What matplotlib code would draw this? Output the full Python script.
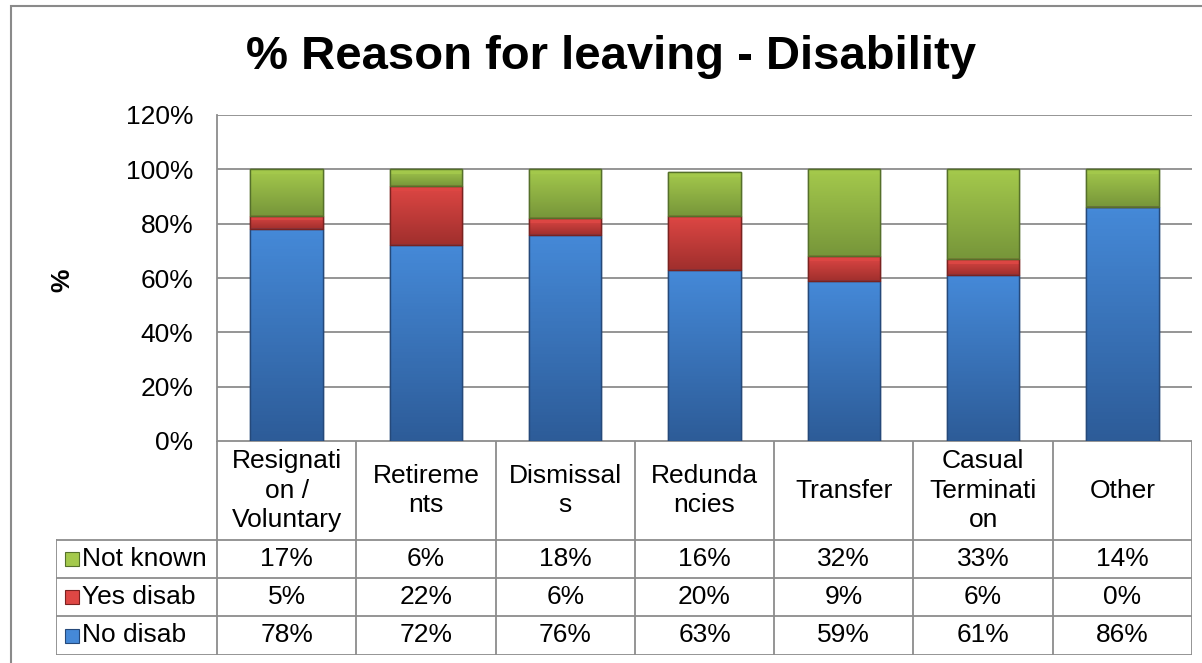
import numpy as np
import matplotlib
matplotlib.use("Agg")
import matplotlib.pyplot as plt
from matplotlib.patches import Rectangle
from matplotlib.colors import LinearSegmentedColormap

plt.rcParams['font.family'] = ['Liberation Sans', 'DejaVu Sans']

# Data
categories = ["Resignati\non /\nVoluntary", "Retireme\nnts", "Dismissal\ns",
              "Redunda\nncies", "Transfer", "Casual\nTerminati\non", "Other"]
no_disab = [78, 72, 76, 63, 59, 61, 86]
yes_disab = [5, 22, 6, 20, 9, 6, 0]
not_known = [17, 6, 18, 16, 32, 33, 14]
yticks = [0, 20, 40, 60, 80, 100, 120]

# top / bottom shades for each series
shades = {
    "No disab": ("#4589d8", "#2d5c98"),
    "Yes disab": ("#de4744", "#a02f2d"),
    "Not known": ("#a4c94c", "#77963a"),
}
edge = {"No disab": "#25497a", "Yes disab": "#7a2220", "Not known": "#55702a"}

FS = 19
W, H = 1202, 663
fig = plt.figure(figsize=(W / 100, H / 100), dpi=100)

# outer chart frame
fig.patches.append(Rectangle((11 / W, -0.05), 1.2, (H - 6) / H + 0.05,
                             transform=fig.transFigure, fill=False,
                             edgecolor="#8a8a8a", lw=1.5))

fig.text(0.508, (H - 57) / H, "% Reason for leaving - Disability",
         ha="center", va="center", fontsize=34, fontweight="bold")
fig.text(62 / W, (H - 280) / H, "%", rotation=90, ha="center", va="center",
         fontsize=FS, fontweight="bold")

# main plot area
ax = fig.add_axes([217 / W, (H - 441) / H, 975 / W, 326 / H])
x = np.arange(len(categories))
ax.set_yticks(yticks)
ax.set_yticklabels([f"{t}%" for t in yticks], fontsize=FS)
ax.tick_params(axis="y", length=0, pad=17)
ax.set_xticks([])
ax.yaxis.grid(True, color="#8c8c8c", lw=1.3)
ax.set_axisbelow(True)
for side in ["top", "right", "bottom"]:
    ax.spines[side].set_visible(False)
ax.spines["left"].set_color("#8c8c8c")
ax.spines["left"].set_linewidth(1.3)


def shaded_bars(ax, xs, heights, bottoms, name):
    top_c, bot_c = shades[name]
    cmap = LinearSegmentedColormap.from_list(name, [bot_c, top_c])
    bars = ax.bar(xs, heights, width=0.52, bottom=bottoms,
                  color=top_c, edgecolor=edge[name], lw=1.0, zorder=3)
    grad = np.linspace(0, 1, 64).reshape(-1, 1)
    for b, h in zip(bars, heights):
        if h <= 0:
            continue
        x0, y0 = b.get_x(), b.get_y()
        im = ax.imshow(grad, cmap=cmap, origin="lower", aspect="auto",
                       extent=[x0, x0 + b.get_width(), y0, y0 + h],
                       zorder=3.5)
        im.set_clip_path(b)
        # bevel highlight along the top of each segment
        bev = min(1.8, h * 0.3)
        ax.bar(x0 + b.get_width() / 2, bev, width=b.get_width(),
               bottom=y0 + h - bev, color=top_c, alpha=0.9,
               lw=0, zorder=3.6)
    ax.bar(xs, heights, width=0.52, bottom=bottoms, fill=False,
           edgecolor=edge[name], lw=1.0, zorder=3.8)
    return bars


bottom = np.zeros(len(categories))
for name, vals in [("No disab", no_disab), ("Yes disab", yes_disab),
                   ("Not known", not_known)]:
    shaded_bars(ax, x, vals, bottom, name)
    bottom += np.array(vals)
ax.set_xlim(-0.5, len(categories) - 0.5)
ax.set_ylim(0, 120)

# data table below the plot
tab = fig.add_axes([56 / W, (H - 655) / H, (1192 - 56) / W, 214 / H])
col_w = 975 / len(categories)
left_units = (217 - 56) / col_w
tab.set_xlim(-0.5 - left_units, len(categories) - 0.5)
tab.set_ylim(655, 441)
tab.axis("off")
grid_c = "#8c8c8c"
rows = [441, 540, 578, 616, 655]
xl = -0.5 - left_units
xr = len(categories) - 0.5
tab.plot([-0.5, xr], [rows[0], rows[0]], color=grid_c, lw=1.3)
for r in rows[1:]:
    tab.plot([xl, xr], [r, r], color=grid_c, lw=1.3)
for i in range(len(categories) + 1):
    tab.plot([i - 0.5, i - 0.5], [rows[0], rows[-1]], color=grid_c, lw=1.3)
tab.plot([xl, xl], [rows[1], rows[-1]], color=grid_c, lw=1.3)

for i, c in enumerate(categories):
    tab.text(i, (rows[0] + rows[1]) / 2, c, ha="center", va="center",
             fontsize=FS, linespacing=1.3)

table_rows = [("Not known", not_known), ("Yes disab", yes_disab),
              ("No disab", no_disab)]
for k, (name, vals) in enumerate(table_rows):
    yc = (rows[k + 1] + rows[k + 2]) / 2
    key_w = 14 / col_w
    tab.add_patch(Rectangle((xl + 9 / col_w, yc - 7), key_w, 14,
                            facecolor=shades[name][0],
                            edgecolor=edge[name], lw=0.8))
    tab.text(xl + 26 / col_w, yc, name, ha="left", va="center", fontsize=FS)
    for i, v in enumerate(vals):
        tab.text(i, yc, f"{v}%", ha="center", va="center", fontsize=FS)

fig.savefig("out.png", dpi=100)
